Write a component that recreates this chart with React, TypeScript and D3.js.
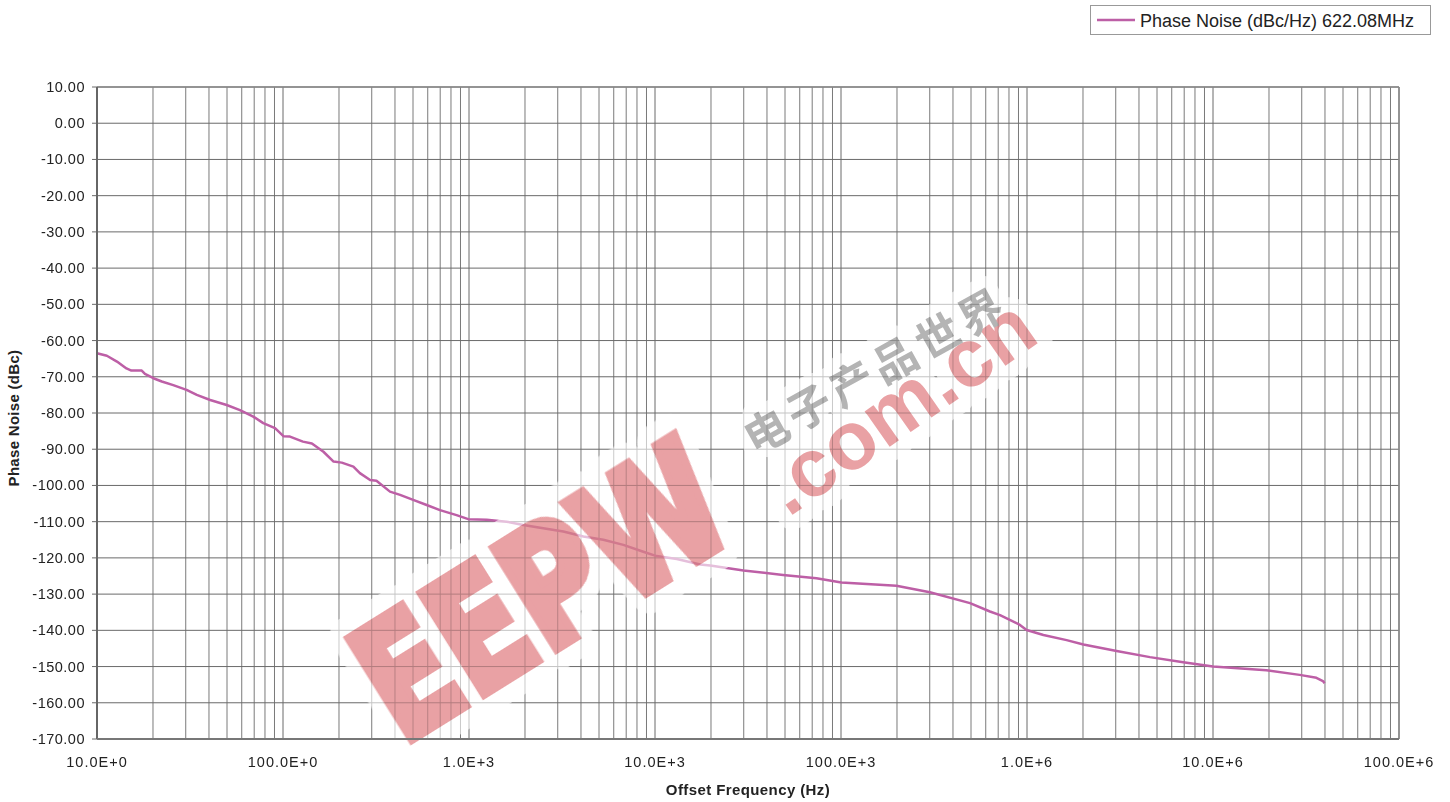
import React from "react";
import * as d3 from "d3";

const freqHz = [
  10, 11.3, 12.8, 14.4, 15.3, 17.4, 18.1, 20.1, 22.3, 25.7, 30.3, 34.4, 40.6, 49.8, 58.7, 69.2, 78.3, 90.6,
  100.5, 109, 128, 143, 165, 187, 207, 239, 259, 294, 318, 376, 426, 501, 592, 698, 857, 991,
  1245, 1592, 1959, 2506, 3214, 4121, 5272, 6761, 8650, 10200, 13100, 17500, 19800, 29900, 48800,
  73800, 100500, 198600, 300600, 494000, 632000, 716000, 916000, 995000, 1225000, 1633000, 2009000,
  3034000, 4581000, 6918000, 10000000, 19360000, 29240000, 35970000, 39000000, 39810000,
];
const phaseNoise = [
  -63.5, -64.2, -65.8, -67.7, -68.3, -68.3, -69.2, -70.4, -71.3, -72.3, -73.6, -75.0, -76.4, -77.8, -79.2, -81.0, -82.8, -84.2,
  -86.4, -86.5, -87.9, -88.4, -90.7, -93.4, -93.7, -94.8, -96.6, -98.5, -98.7, -101.7, -102.6, -104.0, -105.4, -106.8, -108.2, -109.3,
  -109.5, -110.0, -110.9, -111.8, -112.7, -114.1, -115.0, -116.4, -118.3, -119.5, -120.3, -121.8, -122.1, -123.5, -124.7,
  -125.6, -126.8, -127.7, -129.5, -132.5, -134.8, -135.8, -138.5, -139.9, -141.3, -142.7, -143.9,
  -145.7, -147.4, -148.8, -150.0, -151.0, -152.3, -153.1, -154.0, -154.6,
];
const xTickValues = [10, 100, 1e3, 1e4, 1e5, 1e6, 1e7, 1e8];
const xTickLabels = ["10.0E+0", "100.0E+0", "1.0E+3", "10.0E+3", "100.0E+3", "1.0E+6", "10.0E+6", "100.0E+6"];
const yTickValues = d3.range(10, -171, -10);
const seriesName = "Phase Noise (dBc/Hz) 622.08MHz";
const watermarkLogo = "EEPW";
const watermarkDomain = ".com.cn";
const watermarkCn = "电子产品世界";

export default function App() {
  const W = 1450, H = 802;
  const L = 97, R = 1399, T = 87, B = 739;
  const x = d3.scaleLog().domain([10, 1e8]).range([L, R]);
  const y = d3.scaleLinear().domain([10, -170]).range([T, B]);
  const minor: number[] = [];
  for (let e = 1; e < 8; e++) for (let k = 2; k <= 9; k++) minor.push(k * Math.pow(10, e));
  const line = d3.line<number>().x((_, i) => x(freqHz[i])).y((d) => y(d));
  const font = "'Liberation Sans', Arial, sans-serif";
  const lineColor = "#bd5fa6";
  const wm = "#e9a1a4";
  const logoFont = "'DejaVu Sans', sans-serif";
  return (
    <svg width={W} height={H} style={{ position: "absolute", left: 0, top: 0, background: "#fff" }} fontFamily={font}>
      <rect x={0} y={0} width={W} height={H} fill="#fff" />
      {/* grid */}
      {minor.map((f, i) => (
        <line key={"m" + i} x1={x(f)} x2={x(f)} y1={T} y2={B} stroke="#7a7a7a" strokeWidth={1} />
      ))}
      {xTickValues.map((f, i) => (
        <line key={"M" + i} x1={x(f)} x2={x(f)} y1={T} y2={B} stroke="#6a6a6a" strokeWidth={1} />
      ))}
      {yTickValues.map((v, i) => (
        <line key={"h" + i} x1={L - 5} x2={R} y1={y(v)} y2={y(v)} stroke="#6a6a6a" strokeWidth={1} />
      ))}
      {/* frame */}
      <line x1={L} x2={R} y1={T} y2={T} stroke="#8a8a8a" strokeWidth={1.5} />
      <line x1={R} x2={R} y1={T} y2={B} stroke="#8a8a8a" strokeWidth={1.5} />
      {/* series */}
      <path d={line(phaseNoise) || ""} fill="none" stroke={lineColor} strokeWidth={2.5} strokeLinejoin="round" />
      {/* watermark: halo */}
      <g opacity={0.6}>
        <g transform="translate(410,740) rotate(-32)">
          <text x={-10} y={0} fontSize={162} fontWeight="bold" fontFamily={logoFont} textLength={400} lengthAdjust="spacingAndGlyphs"
            fill="#fff" stroke="#fff" strokeWidth={44} strokeLinejoin="round">{watermarkLogo}</text>
        </g>
        <g transform="translate(788,518) rotate(-35)">
          <text x={0} y={0} fontSize={82} fontWeight="bold" fill="#fff" stroke="#fff" strokeWidth={30} strokeLinejoin="round">{watermarkDomain}</text>
        </g>
        <g transform="translate(755,456) rotate(-29)">
          <text x={0} y={0} fontSize={44} fontFamily="'Noto Sans CJK SC', sans-serif" letterSpacing={5}
            fill="#fff" stroke="#fff" strokeWidth={24} strokeLinejoin="round">{watermarkCn}</text>
        </g>
      </g>
      {/* watermark: ink */}
      <g style={{ mixBlendMode: "multiply" }}>
        <g transform="translate(410,740) rotate(-32)">
          <text x={-10} y={0} fontSize={162} fontWeight="bold" fontFamily={logoFont} textLength={400} lengthAdjust="spacingAndGlyphs"
            fill={wm} stroke={wm} strokeWidth={10} strokeLinejoin="miter">{watermarkLogo}</text>
        </g>
        <g transform="translate(788,518) rotate(-35)">
          <text x={0} y={0} fontSize={82} fontWeight="bold" fill={wm}>{watermarkDomain}</text>
        </g>
        <g transform="translate(755,456) rotate(-29)">
          <text x={0} y={0} fontSize={44} fontWeight="bold" fill="#b4b4b4" fontFamily="'Noto Sans CJK SC', sans-serif" letterSpacing={5}>{watermarkCn}</text>
        </g>
      </g>
      {/* axes */}
      <line x1={L} x2={L} y1={T} y2={B} stroke="#666" strokeWidth={2} />
      <line x1={L} x2={R} y1={B} y2={B} stroke="#777" strokeWidth={2} />
      {/* y tick labels */}
      {yTickValues.map((v, i) => (
        <text key={"yl" + i} x={85} y={y(v) + 5} textAnchor="end" fontSize={14.5} letterSpacing={0.5} fill="#222">{v.toFixed(2)}</text>
      ))}
      {/* x tick labels */}
      {xTickValues.map((f, i) => (
        <text key={"xl" + i} x={x(f)} y={767} textAnchor="middle" fontSize={14.5} letterSpacing={1} fill="#222">{xTickLabels[i]}</text>
      ))}
      <text x={748} y={795} textAnchor="middle" fontSize={15} letterSpacing={0.4} fontWeight="bold" fill="#222">Offset Frequency (Hz)</text>
      <text transform={`translate(19,418) rotate(-90)`} textAnchor="middle" fontSize={15} letterSpacing={0.3} fontWeight="bold" fill="#222">Phase Noise (dBc)</text>
      {/* legend */}
      <rect x={1090.5} y={5.5} width={340} height={29} fill="#fff" stroke="#999" strokeWidth={1} />
      <line x1={1097} x2={1135} y1={20} y2={20} stroke={lineColor} strokeWidth={2.5} />
      <text x={1140} y={26.5} fontSize={18} fill="#222">{seriesName}</text>
    </svg>
  );
}
